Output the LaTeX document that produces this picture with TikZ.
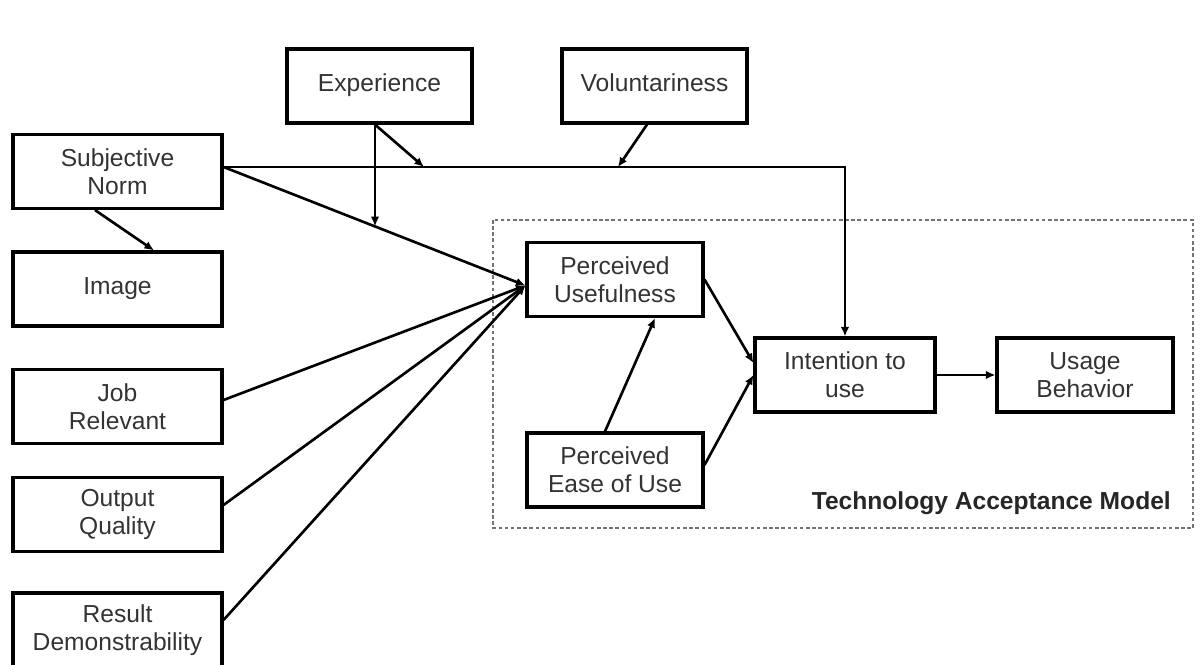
\documentclass[tikz,border=0pt]{standalone}
\usepackage{fontspec}
\setmainfont{Liberation Sans}
\usetikzlibrary{arrows.meta,calc}

\begin{document}
\begin{tikzpicture}[x=0.02cm, y=-0.02cm,
		box/.style={draw, line width=1.8pt, align=center, text=black!80,
			minimum height=1.48cm, font=\fontsize{14}{16}\selectfont},
		wide/.style={box, minimum width=4.18cm},
		mid/.style={box, minimum width=3.6cm},
		link/.style={line width=1.5pt, -{Latex[length=1.9mm,width=1.7mm]}}
		]
	\useasboundingbox (0,0) rectangle (1201,665);
	% TAM frame
	\draw[black!55, line width=0.9pt, dash pattern=on 2pt off 1.5pt] (493,220) rectangle (1193,528);
	\node[anchor=east, font=\fontsize{14}{16}\selectfont\bfseries, text=black!85] (tam) at (1177,503) {Technology Acceptance Model};

	\node [mid, minimum width=3.7cm] (exp) at (379.5,86) {\strut Experience};
	\node [mid, minimum width=3.7cm] (vol) at (654.5,86) {\strut Voluntariness};
	\node [wide] (sn)  at (117.5,171.5) {Subjective\\Norm};
	\node [wide] (img) at (117.5,289) {\strut Image};
	\node [wide] (jr)  at (117.5,406.5) {Job\\Relevant};
	\node [wide] (oq)  at (117.5,514.5) {Output\\Quality};
	\node [wide] (rd)  at (117.5,630) {Result\\Demonstrability};
	\node [mid, minimum width=3.52cm] (pu)   at (615,279.5) {Perceived\\Usefulness};
	\node [mid, minimum width=3.52cm] (peou) at (615,470) {Perceived\\Ease of Use};
	\node [mid] (itu) at (845,375) {Intention to\\use};
	\node [mid, minimum width=3.52cm] (ub) at (1085,375) {Usage\\Behavior};

	\coordinate (snout) at ([yshift=0.09cm]sn.east);
	\coordinate (puin) at ([yshift=-0.12cm]pu.west);
	\coordinate (expout) at ([xshift=-0.09cm]exp.south);
	\coordinate (volout) at ([xshift=-0.15cm]vol.south);
	\coordinate (m1) at ($(snout)!0.5!(puin)$);
	\coordinate (m2) at (424,167);
	\coordinate (m3) at (618,167);

	\draw[link] (snout) -| (itu.north);
	\draw[link] (snout) -- (puin);
	\draw[link] (expout) -- (expout |- m1);
	\draw[link] (expout) -- (m2);
	\draw[link] (volout) -- (m3);
	\draw[link] ([xshift=-0.45cm]sn.south) -- ([xshift=0.73cm]img.north);
	\draw[link] ([yshift=0.13cm]jr.east) -- (puin);
	\draw[link] ([yshift=0.19cm]oq.east) -- (puin);
	\draw[link] ([yshift=0.2cm]rd.east) -- (puin);
	\draw[link] ([xshift=-0.2cm]peou.north) -- ([xshift=0.8cm]pu.south);
	\draw[link] (pu.east) -- ([yshift=0.24cm]itu.west);
	\draw[link] ([yshift=0.1cm]peou.east) -- (itu.west);
	\draw[link] (itu.east) -- (ub.west);
\end{tikzpicture}
\end{document}
